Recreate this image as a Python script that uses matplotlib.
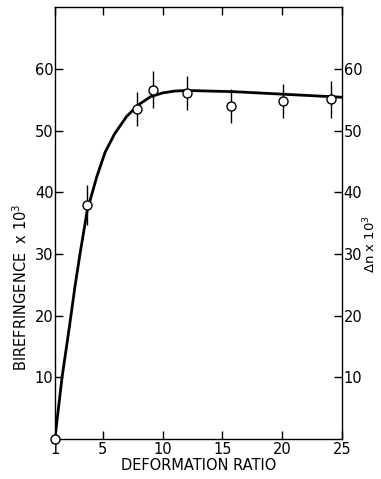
import numpy as np
import matplotlib.pyplot as plt

plt.rcParams['font.family'] = ['DejaVu Sans']

# measured points (deformation ratio, birefringence x 10^3)
ratio = [1.0, 3.7, 7.9, 9.2, 12.0, 15.7, 20.1, 24.1]
biref = [0.0, 37.9, 53.5, 56.6, 56.1, 54.0, 54.8, 55.1]
err = [0.0, 3.2, 2.8, 3.0, 2.8, 2.8, 2.8, 3.0]

# smooth curve drawn through the data
curve_x = [1, 1.3, 1.6, 2.2, 2.7, 3.1, 3.7, 4.5, 5.2, 6, 7, 8, 9, 10, 11, 12,
           14, 16, 18, 20, 22, 25]
curve_y = [0, 5, 10, 18, 25, 30, 37, 42.5, 46.5, 49.5, 52.3, 54.2, 55.5, 56.1,
           56.4, 56.5, 56.4, 56.3, 56.1, 55.9, 55.7, 55.4]

xticks = [1, 5, 10, 15, 20, 25]
yticks = [10, 20, 30, 40, 50, 60]

fig = plt.figure(figsize=(3.81, 4.79), dpi=100)
ax = fig.add_axes([0.144, 0.0835, 0.754, 0.9015])

ax.plot(curve_x, curve_y, color='black', lw=2)
ax.errorbar(ratio, biref, yerr=err, fmt='o', color='black', mfc='white',
            mec='black', ms=6.5, mew=1.0, elinewidth=1.0, capsize=0, zorder=3,
            clip_on=False)

ax.set_xlim(1, 25)
ax.set_ylim(0, 70)
ax.set_xticks(xticks)
ax.set_yticks(yticks)
ax.tick_params(direction='in', length=6, width=1, labelsize=10.5, pad=2,
               top=True, right=True, labelright=True)
ax.tick_params(axis='y', which='both', pad=1)
for s in ax.spines.values():
    s.set_linewidth(1)

ax.set_xlabel('DEFORMATION RATIO', fontsize=10.5, labelpad=1)
fig.text(0.055, 0.40, r'BIREFRINGENCE  x 10$^3$', rotation=90, fontsize=10.5,
         ha='center', va='center')
fig.text(0.972, 0.49, r'$\Delta$n x 10$^3$', rotation=90, fontsize=9.5,
         ha='center', va='center')

fig.savefig('out.png', dpi=100)
